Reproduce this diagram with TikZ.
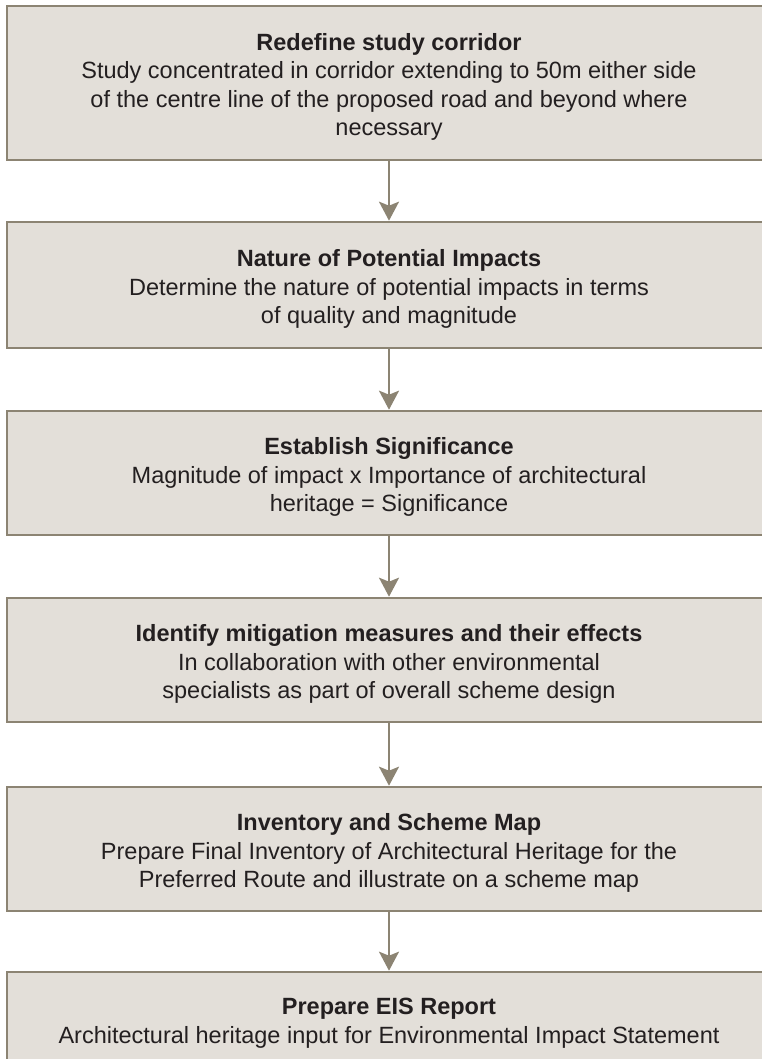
\documentclass[tikz,border=0pt]{standalone}
\usepackage{fontspec}
\setmainfont{Liberation Sans}
\usetikzlibrary{arrows.meta}
\definecolor{boxfill}{HTML}{E3DFD9}
\definecolor{boxline}{HTML}{8C8473}
\definecolor{txt}{HTML}{231F20}
\newcommand{\topstrut}{\rule{0pt}{25pt}}
\tikzset{
  stepbox/.style={draw=boxline, fill=boxfill, line width=2.6pt, minimum width=764pt,
    inner sep=0pt, align=center, text=txt,
    font=\fontsize{23.5}{28.5}\selectfont},
  flowarrow/.style={draw=boxline, line width=2.4pt,
    -{Stealth[length=19pt, width=20pt, inset=4pt]}}
}
\begin{document}
\begin{tikzpicture}[x=1pt,y=-1pt]
\useasboundingbox (0,0) rectangle (762,1059);
\node[stepbox, minimum height=154pt] (b1) at (389,83)
  {\topstrut\textbf{Redefine study corridor}\\Study concentrated in corridor extending to 50m either side\\of the centre line of the proposed road and beyond where\\necessary};
\node[stepbox, minimum height=126pt] (b2) at (389,285)
  {\topstrut\textbf{Nature of Potential Impacts}\\Determine the nature of potential impacts in terms\\of quality and magnitude};
\node[stepbox, minimum height=124pt] (b3) at (389,473)
  {\topstrut\textbf{Establish Significance}\\Magnitude of impact x Importance of architectural\\heritage = Significance};
\node[stepbox, minimum height=124pt] (b4) at (389,660)
  {\topstrut\textbf{Identify mitigation measures and their effects}\\In collaboration with other environmental\\specialists as part of overall scheme design};
\node[stepbox, minimum height=124pt] (b5) at (389,849)
  {\topstrut\textbf{Inventory and Scheme Map}\\Prepare Final Inventory of Architectural Heritage for the\\Preferred Route and illustrate on a scheme map};
\node[stepbox, minimum height=94pt] (b6) at (389,1019)
  {\topstrut\textbf{Prepare EIS Report}\\Architectural heritage input for Environmental Impact Statement};
\draw[flowarrow] (b1.south) -- (b2.north);
\draw[flowarrow] (b2.south) -- (b3.north);
\draw[flowarrow] (b3.south) -- (b4.north);
\draw[flowarrow] (b4.south) -- (b5.north);
\draw[flowarrow] (b5.south) -- (b6.north);
\end{tikzpicture}
\end{document}
